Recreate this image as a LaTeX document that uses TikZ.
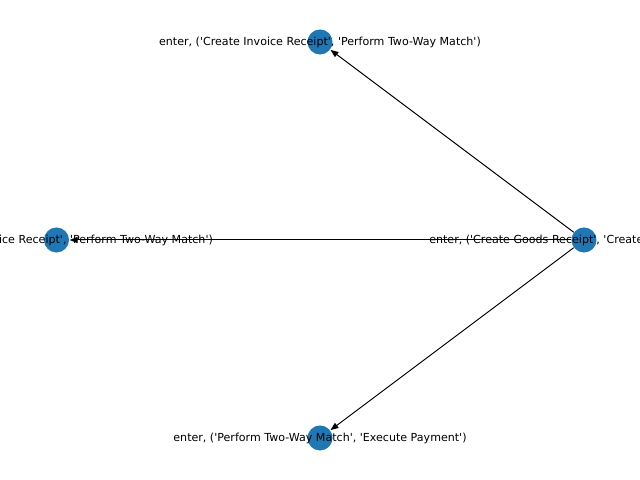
\documentclass[tikz,border=0pt]{standalone}
\usepackage{fontspec}
\setmainfont{DejaVu Sans}[Ligatures=TeXOff]
\usetikzlibrary{arrows.meta}
\begin{document}
\begin{tikzpicture}[x=0.01in,y=-0.01in,
  dot/.style={circle,fill={rgb,255:red,31;green,119;blue,180},inner sep=0pt,minimum size=0.25in},
  lbl/.style={font=\fontsize{8}{9}\selectfont,inner sep=0pt},
  edge/.style={draw=black,line width=0.72pt,-{Triangle[length=0.08in,width=0.06in]},shorten >=0.2pt}]
\useasboundingbox (0,0) rectangle (640,480);
\clip (0,0) rectangle (640,480);
\node[dot] (r) at (584,240) {};
\node[dot] (t) at (320,42) {};
\node[dot] (l) at (56.5,240) {};
\node[dot] (b) at (320,438) {};
\draw[edge] (r) -- (t);
\draw[edge] (r) -- (l);
\draw[edge] (r) -- (b);
\node[lbl] (rl) at (r) {enter, ('Create Goods Receipt', 'Create Invoice Receipt')};
\node[lbl] (tl) at (t) {enter, ('Create Invoice Receipt', 'Perform Two-Way Match')};
\node[lbl] (ll) at (l) {exit, ('Create Invoice Receipt', 'Perform Two-Way Match')};
\node[lbl] (bl) at (b) {enter, ('Perform Two-Way Match', 'Execute Payment')};
\end{tikzpicture}
\end{document}
